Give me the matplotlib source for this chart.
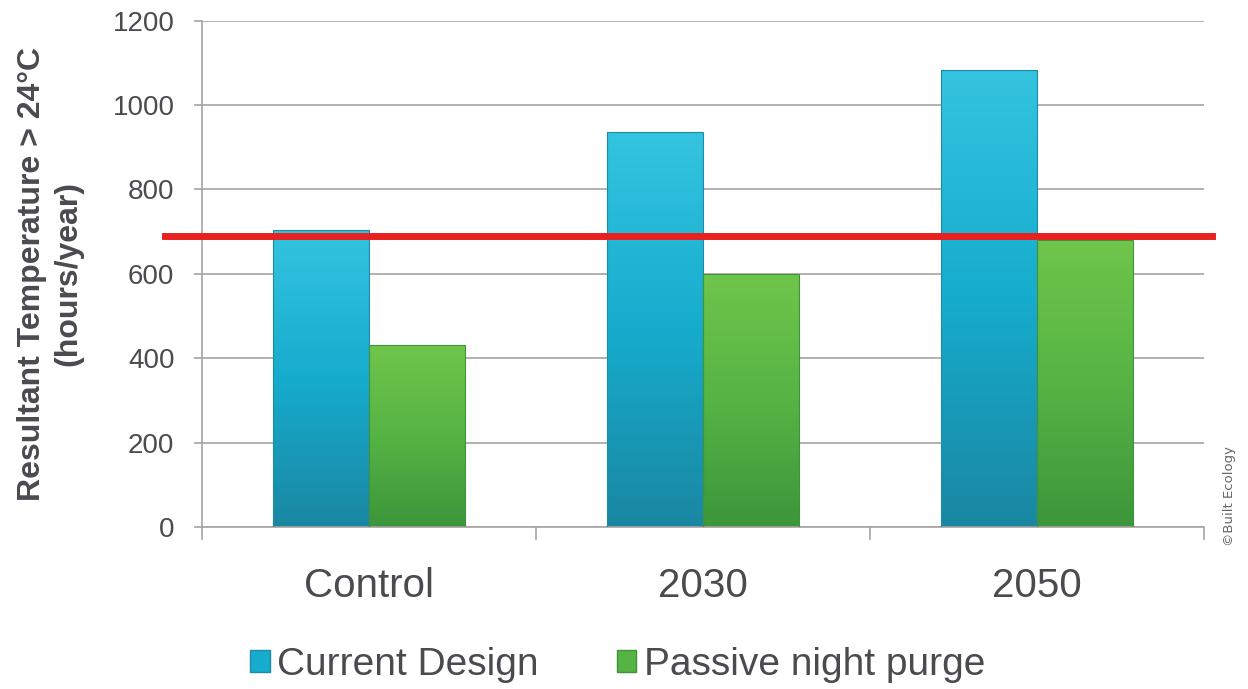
import matplotlib.pyplot as plt
import matplotlib.patches as mpatches
import numpy as np

plt.rcParams['font.family'] = ['Liberation Sans', 'DejaVu Sans']

categories = ['Control', '2030', '2050']
current_design = [704, 937, 1084]
night_purge = [432, 600, 681]
threshold = 690
series_names = ['Current Design', 'Passive night purge']

# gradient colours, top -> bottom
cyan_grad = ['#34c4e0', '#16accd', '#1a87a2']
green_grad = ['#70c54b', '#56b444', '#3c963b']


def grad_bars(ax, bars, colors):
    cmap = plt.matplotlib.colors.LinearSegmentedColormap.from_list('g', colors[::-1])
    grad = np.linspace(0, 1, 256).reshape(-1, 1)
    for b in bars:
        x0, y0 = b.get_x(), b.get_y()
        w, h = b.get_width(), b.get_height()
        im = ax.imshow(grad, cmap=cmap, aspect='auto', origin='lower',
                       extent=[x0, x0 + w, y0, y0 + h], zorder=2)
        im.set_clip_path(b)


fig = plt.figure(figsize=(12.48, 6.89), dpi=100)
ax = fig.add_axes([0.162, 0.235, 0.803, 0.735])

x = np.arange(len(categories))
w = 0.287
b1 = ax.bar(x - w / 2, current_design, w, color='none', edgecolor='#1d8ba6', linewidth=0.8, zorder=3)
b2 = ax.bar(x + w / 2, night_purge, w, color='none', edgecolor='#3f933c', linewidth=0.8, zorder=3)
grad_bars(ax, b1, cyan_grad)
grad_bars(ax, b2, green_grad)

ax.axhline(threshold, xmin=-0.037, xmax=1.008, color='#e8201f', linewidth=5, clip_on=False, zorder=5)

ax.set_xlim(-0.5, 2.5)
ax.set_ylim(0, 1200)
ax.set_yticks(range(0, 1201, 200))
ax.grid(axis='y', color='#a8a3a0', linewidth=1.2, zorder=0)
ax.set_axisbelow(True)

for s in ['top', 'right']:
    ax.spines[s].set_visible(False)
ax.spines['left'].set_color('#a8a3a0')
ax.spines['bottom'].set_color('#a8a3a0')
ax.spines['left'].set_linewidth(1.2)
ax.spines['bottom'].set_linewidth(1.2)

ax.set_xticks(x)
ax.set_xticklabels(categories)
ax.set_xticks([-0.5, 0.5, 1.5, 2.5], minor=True)
ax.tick_params(axis='x', which='major', length=0, pad=29, labelsize=29, labelcolor='#4a4a4f')
ax.tick_params(axis='x', which='minor', length=9, color='#a8a3a0', width=1.2)
ax.tick_params(axis='y', length=6, color='#a8a3a0', width=1.2, pad=14, labelsize=20, labelcolor='#4a4a4f')

ax.set_ylabel('Resultant Temperature > 24°C\n(hours/year)', fontsize=23, fontweight='bold',
              color='#4a4a4f', linespacing=1.25)
ax.yaxis.set_label_coords(-0.119, 0.5)

handles = [mpatches.Patch(facecolor=cyan_grad[1], edgecolor='#1d8ba6'),
           mpatches.Patch(facecolor=green_grad[1], edgecolor='#3f933c')]
fig.legend(handles, series_names, loc='center', bbox_to_anchor=(0.495, 0.035), ncol=2,
           frameon=False, fontsize=28, labelcolor='#4a4a4f', handlelength=0.5, handleheight=0.5,
           handletextpad=0.2, columnspacing=2.0)

fig.text(0.985, 0.28, '©Built Ecology', rotation=90, fontsize=9.5, color='#666666',
         ha='center', va='center', family=['DejaVu Sans'])

fig.savefig('out.png', dpi=100)
